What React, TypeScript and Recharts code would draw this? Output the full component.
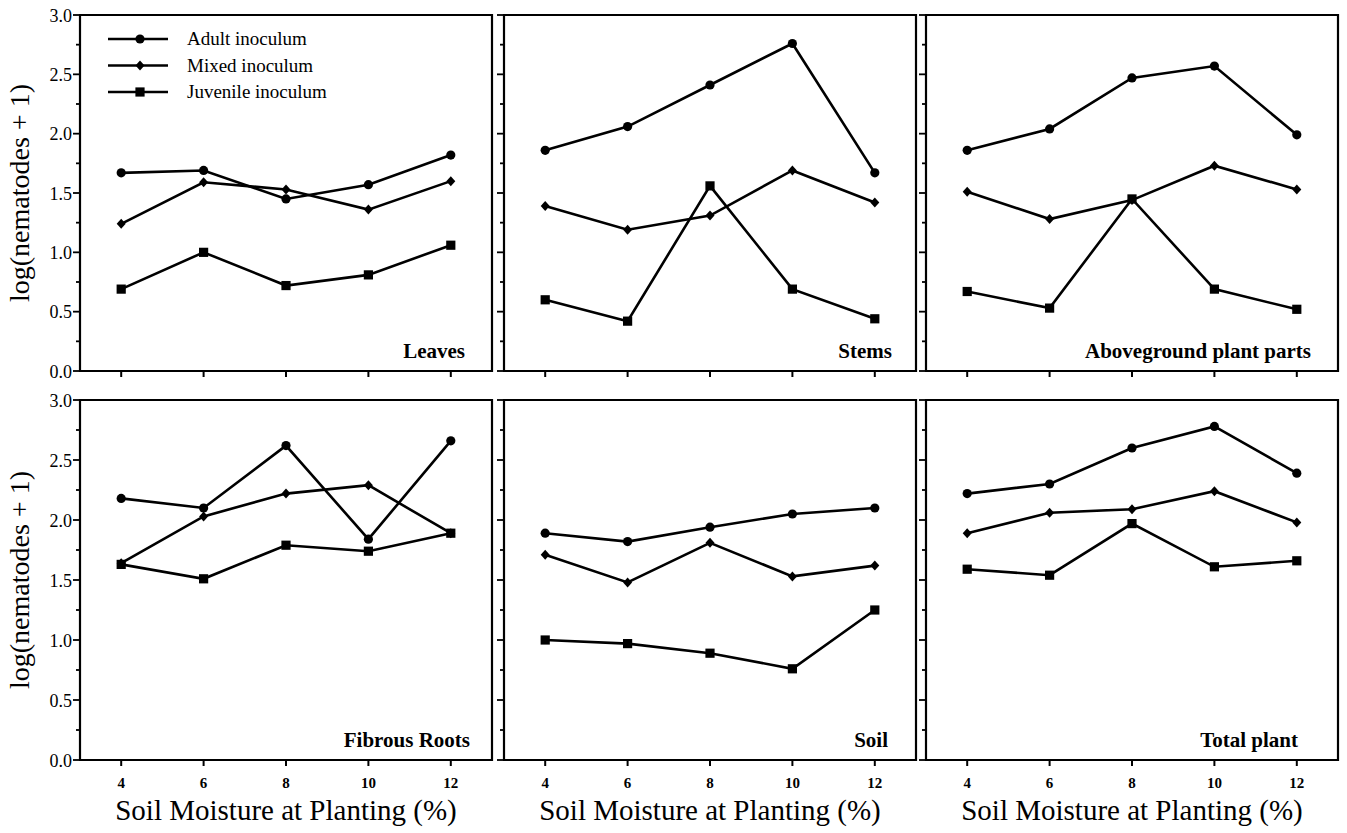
import { LineChart, Line, XAxis, YAxis, ReferenceArea, Legend } from 'recharts'

const moisture = [4, 6, 8, 10, 12]
const yTicks = [0, 0.25, 0.5, 0.75, 1, 1.25, 1.5, 1.75, 2, 2.25, 2.5, 2.75, 3]

const leavesAdult = [1.67, 1.69, 1.45, 1.57, 1.82]
const leavesMixed = [1.24, 1.59, 1.53, 1.36, 1.6]
const leavesJuvenile = [0.69, 1.0, 0.72, 0.81, 1.06]

const stemsAdult = [1.86, 2.06, 2.41, 2.76, 1.67]
const stemsMixed = [1.39, 1.19, 1.31, 1.69, 1.42]
const stemsJuvenile = [0.6, 0.42, 1.56, 0.69, 0.44]

const aboveAdult = [1.86, 2.04, 2.47, 2.57, 1.99]
const aboveMixed = [1.51, 1.28, 1.44, 1.73, 1.53]
const aboveJuvenile = [0.67, 0.53, 1.45, 0.69, 0.52]

const rootsAdult = [2.18, 2.1, 2.62, 1.84, 2.66]
const rootsMixed = [1.64, 2.03, 2.22, 2.29, 1.89]
const rootsJuvenile = [1.63, 1.51, 1.79, 1.74, 1.89]

const soilAdult = [1.89, 1.82, 1.94, 2.05, 2.1]
const soilMixed = [1.71, 1.48, 1.81, 1.53, 1.62]
const soilJuvenile = [1.0, 0.97, 0.89, 0.76, 1.25]

const totalAdult = [2.22, 2.3, 2.6, 2.78, 2.39]
const totalMixed = [1.89, 2.06, 2.09, 2.24, 1.98]
const totalJuvenile = [1.59, 1.54, 1.97, 1.61, 1.66]

const series = [
  { key: 'adult', name: 'Adult inoculum', shape: 'circle' },
  { key: 'mixed', name: 'Mixed inoculum', shape: 'diamond' },
  { key: 'juvenile', name: 'Juvenile inoculum', shape: 'square' },
]

const panels = [
  { title: 'Leaves', adult: leavesAdult, mixed: leavesMixed, juvenile: leavesJuvenile },
  { title: 'Stems', adult: stemsAdult, mixed: stemsMixed, juvenile: stemsJuvenile },
  { title: 'Aboveground plant parts', adult: aboveAdult, mixed: aboveMixed, juvenile: aboveJuvenile },
  { title: 'Fibrous Roots', adult: rootsAdult, mixed: rootsMixed, juvenile: rootsJuvenile },
  { title: 'Soil', adult: soilAdult, mixed: soilMixed, juvenile: soilJuvenile },
  { title: 'Total plant', adult: totalAdult, mixed: totalMixed, juvenile: totalJuvenile },
]

const FONT = '"Liberation Serif", "Times New Roman", serif'
const PLOT_W = 412
const Y_AXIS_W = 80
const MARGIN = { top: 15, right: 10, bottom: 0, left: 0 }
const colLeft = [0, 424, 846]
const titleInset = [27, 24, 27, 22, 28, 40]

const Marker = ({ shape, cx, cy }: { shape: string; cx: number; cy: number }) => {
  if (shape === 'circle') return <circle cx={cx} cy={cy} r={4.6} fill="#000" />
  if (shape === 'diamond')
    return <polygon points={`${cx},${cy - 5} ${cx + 4.5},${cy} ${cx},${cy + 5} ${cx - 4.5},${cy}`} fill="#000" />
  return <rect x={cx - 4.6} y={cy - 4.6} width={9.2} height={9.2} fill="#000" />
}

const YTick = (props: any) => {
  const { x, y, payload, showLabel } = props
  const major = Math.abs(payload.value * 2 - Math.round(payload.value * 2)) < 1e-6
  const len = major ? 7 : 4
  return (
    <g>
      <line x1={x - len} x2={x} y1={y} y2={y} stroke="#000" strokeWidth={1.8} />
      {showLabel && major && (
        <text x={x - 8} y={y + 6.5} textAnchor="end" fontFamily={FONT} fontSize={18} fill="#000">
          {payload.value.toFixed(1)}
        </text>
      )}
    </g>
  )
}

const XTick = (props: any) => {
  const { x, y, payload, showLabel } = props
  return (
    <g>
      <line x1={x} x2={x} y1={y} y2={y + 6} stroke="#000" strokeWidth={2} />
      {showLabel && (
        <text x={x} y={y + 28} textAnchor="middle" fontFamily={FONT} fontSize={15} fontWeight="bold" fill="#000">
          {payload.value}
        </text>
      )}
    </g>
  )
}

const PanelTitle = (props: any) => {
  const { viewBox, text, inset } = props
  if (!viewBox) return null
  return (
    <text
      x={viewBox.x + viewBox.width - inset}
      y={viewBox.y + viewBox.height - 13}
      textAnchor="end"
      fontFamily={FONT}
      fontSize={21}
      fontWeight="bold"
      fill="#000"
    >
      {text}
    </text>
  )
}

const YTitle = (props: any) => {
  const { viewBox } = props
  if (!viewBox) return null
  const cx = viewBox.x + 29
  const cy = viewBox.y + viewBox.height / 2
  return (
    <text
      x={cx}
      y={cy}
      transform={`rotate(-90 ${cx} ${cy})`}
      textAnchor="middle"
      fontFamily={FONT}
      fontSize={28}
      fill="#000"
    >
      log(nematodes + 1)
    </text>
  )
}

const XTitle = (props: any) => {
  const { viewBox } = props
  if (!viewBox) return null
  return (
    <text
      x={viewBox.x + viewBox.width / 2}
      y={viewBox.y + 60}
      textAnchor="middle"
      fontFamily={FONT}
      fontSize={29}
      fill="#000"
    >
      Soil Moisture at Planting (%)
    </text>
  )
}

const LegendBox = () => (
  <svg width={280} height={80} style={{ overflow: 'visible' }}>
    {series.map((s, i) => {
      const cy = 13 + i * 26.5
      return (
        <g key={s.key}>
          <line x1={3} x2={63} y1={cy} y2={cy} stroke="#000" strokeWidth={2.4} />
          <Marker shape={s.shape} cx={35} cy={cy} />
          <text x={82} y={cy + 6} fontFamily={FONT} fontSize={19} fill="#000">
            {s.name}
          </text>
        </g>
      )
    })}
  </svg>
)

function Panel({ index }: { index: number }) {
  const p = panels[index] as any
  const row = Math.floor(index / 3)
  const col = index % 3
  const plotH = row === 0 ? 356 : 360
  const xAxisH = row === 0 ? 24 : 70
  const top = row === 0 ? 0 : 385
  const width = Y_AXIS_W + PLOT_W + MARGIN.right
  const height = MARGIN.top + plotH + xAxisH
  const data = moisture.map((m, i) => ({
    moisture: m,
    adult: p.adult[i],
    mixed: p.mixed[i],
    juvenile: p.juvenile[i],
  }))

  return (
    <div style={{ position: 'absolute', left: colLeft[col], top, width, height }}>
      <LineChart width={width} height={height} data={data} margin={MARGIN} style={{ overflow: 'visible' }}>
        <XAxis
          dataKey="moisture"
          type="number"
          domain={[3, 13]}
          ticks={moisture}
          axisLine={false}
          tickLine={false}
          tickSize={0}
          tickMargin={0}
          height={xAxisH}
          tick={<XTick showLabel={row === 1} />}
          label={row === 1 ? <XTitle /> : undefined}
        />
        <YAxis
          type="number"
          domain={[0, 3]}
          ticks={yTicks}
          axisLine={false}
          tickLine={false}
          tickSize={0}
          tickMargin={0}
          width={Y_AXIS_W}
          interval={0}
          tick={<YTick showLabel={col === 0} />}
          label={col === 0 ? <YTitle /> : undefined}
        />
        <ReferenceArea
          x1={3}
          x2={13}
          y1={0}
          y2={3}
          fill="none"
          stroke="#000"
          strokeWidth={2.2}
          ifOverflow="visible"
          label={<PanelTitle text={p.title} inset={titleInset[index]} />}
        />
        {series.map((s) => (
          <Line
            key={s.key}
            dataKey={s.key}
            name={s.name}
            type="linear"
            stroke="#000"
            strokeWidth={2.6}
            isAnimationActive={false}
            dot={(d: any) => <Marker key={`${s.key}-${d.index}`} shape={s.shape} cx={d.cx} cy={d.cy} />}
            activeDot={false}
          />
        ))}
        {index === 0 && (
          <Legend
            layout="horizontal"
            verticalAlign="middle"
            align="center"
            content={<LegendBox />}
            wrapperStyle={{ left: 105, top: 26, width: 280, height: 80 }}
          />
        )}
      </LineChart>
    </div>
  )
}

export default function App() {
  return (
    <div
      style={{
        position: 'absolute',
        left: 0,
        top: 0,
        width: 1347,
        height: 833,
        background: '#fff',
        overflow: 'hidden',
      }}
    >
      {panels.map((_, i) => (
        <Panel key={i} index={i} />
      ))}
    </div>
  )
}
